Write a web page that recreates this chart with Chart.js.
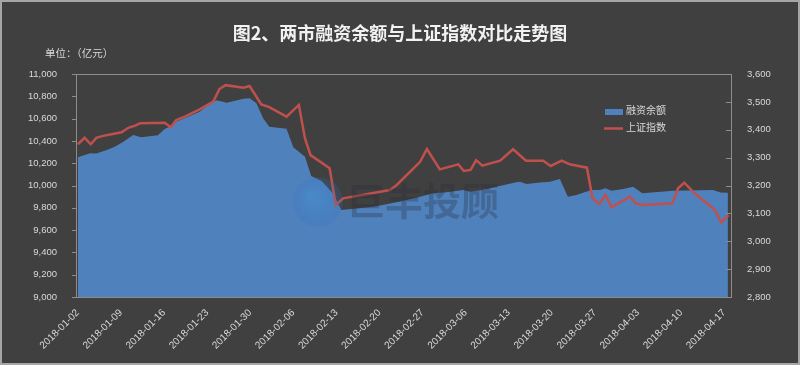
<!DOCTYPE html>
<html lang="zh-CN">
<head>
    <meta charset="UTF-8">
    <title>两市融资余额与上证指数对比走势图</title>
    <script src="https://cdn.jsdelivr.net/npm/chart.js"></script>
    <style>
        body {
            margin: 0;
            background-color: #404040;
        }
        canvas {
            display: block;
        }
    </style>
</head>
<body>
<canvas id="marginChart" width="800" height="365"></canvas>

<script>
    // 横轴刻度（每周一个）
    var xLabels = ['2018-01-02', '2018-01-09', '2018-01-16', '2018-01-23', '2018-01-30', '2018-02-06',
        '2018-02-13', '2018-02-20', '2018-02-27', '2018-03-06', '2018-03-13', '2018-03-20',
        '2018-03-27', '2018-04-03', '2018-04-10', '2018-04-17'];

    // 融资余额（亿元），位置为自 2018-01-02 起的天数
    var balanceDays = [0, 2, 3, 4.7, 6, 7.4, 9, 10.3, 13, 14.1, 14.9, 16, 19.8, 21.4, 22.5, 24.2, 26.9, 27.9,
        29, 30.1, 31.1, 33.9, 35, 36.9, 37.9, 39.6, 41.4, 42.8, 48, 51.8, 55, 57.7, 59.9, 62.6, 63.7, 65.8,
        68, 71, 71.8, 72.9, 75.1, 76.7, 78.3, 79.6, 81, 83.4, 84.8, 85.7, 86.7, 88.6, 90.2, 91.7, 96.7,
        103.2, 104.4, 105.6];
    var balanceValues = [10253, 10289, 10286, 10318, 10348, 10393, 10453, 10432, 10450, 10507, 10527, 10572,
        10662, 10728, 10764, 10743, 10779, 10782, 10737, 10603, 10527, 10510, 10343, 10258, 10085, 10040,
        9930, 9780, 9810, 9849, 9891, 9930, 9939, 9960, 9945, 9960, 9989, 10028, 10034, 10013, 10028, 10034,
        10058, 9900, 9915, 9960, 9960, 9975, 9953, 9969, 9989, 9930, 9953, 9960, 9937, 9935];

    // 上证指数
    var indexDays = [0, 1.1, 2.1, 3, 4.1, 5.7, 7.1, 8.2, 9.3, 10.1, 14.1, 15.1, 16, 17.4, 19.8, 22, 23, 24,
        26.9, 27.9, 29.8, 31.1, 33.9, 35.9, 36.9, 37.8, 40.9, 41.9, 43.1, 50.7, 51.8, 55.6, 56.7, 58.8,
        61.8, 62.7, 63.8, 64.7, 65.7, 68.6, 70.7, 72.8, 75.6, 76.8, 78.6, 79.9, 82.7, 83.6, 84.7, 85.7,
        86.7, 89.7, 90.6, 91.8, 96.6, 97.5, 98.5, 100, 101, 103.5, 104.5, 105.7];
    var indexValues = [3348, 3371, 3348, 3371, 3378, 3385, 3391, 3407, 3415, 3423, 3425, 3409, 3435, 3447,
        3473, 3501, 3546, 3560, 3551, 3557, 3491, 3481, 3447, 3489, 3369, 3309, 3262, 3130, 3154, 3184,
        3202, 3285, 3331, 3258, 3276, 3252, 3256, 3291, 3271, 3289, 3330, 3289, 3289, 3270, 3289, 3276,
        3264, 3154, 3134, 3166, 3122, 3160, 3136, 3130, 3136, 3190, 3210, 3176, 3157, 3112, 3068, 3094];

    function toPoints(days, values) {
        return days.map(function (d, i) {
            return { x: d, y: values[i] };
        });
    }

    var axisColor = '#8c8c8c';
    var textColor = '#d9d9d9';
    var cjkFont = '"Noto Sans CJK SC", sans-serif';
    var numFont = '"Liberation Sans", Arial, sans-serif';

    // 边框、刻度线、单位、图例、水印
    var decorPlugin = {
        id: 'decor',
        afterDatasetsDraw: function (chart) {
            var ctx = chart.ctx;
            ctx.save();
            var g = ctx.createRadialGradient(312, 196, 4, 318, 202, 25);
            g.addColorStop(0, 'rgba(60,150,220,0.35)');
            g.addColorStop(1, 'rgba(50,110,190,0.18)');
            ctx.fillStyle = g;
            ctx.beginPath();
            ctx.arc(318, 202, 25, 0, Math.PI * 2);
            ctx.fill();
            ctx.font = 'bold 38px ' + cjkFont;
            ctx.fillStyle = 'rgba(40,45,60,0.3)';
            ctx.textAlign = 'center';
            ctx.textBaseline = 'middle';
            ctx.fillText('巨丰投顾', 423, 201);
            ctx.restore();
        },
        afterDraw: function (chart) {
            var ctx = chart.ctx;
            var a = chart.chartArea;
            ctx.save();

            // 绘图区边框
            ctx.strokeStyle = axisColor;
            ctx.lineWidth = 1;
            ctx.strokeRect(Math.round(a.left) + 0.5, Math.round(a.top) + 0.5,
                Math.round(a.right - a.left), Math.round(a.bottom - a.top));

            // 左轴刻度线（外侧），右轴刻度线（内侧）
            ctx.beginPath();
            chart.scales.y.ticks.forEach(function (t) {
                var py = Math.round(chart.scales.y.getPixelForValue(t.value)) + 0.5;
                ctx.moveTo(a.left - 4, py);
                ctx.lineTo(a.left, py);
            });
            chart.scales.y1.ticks.forEach(function (t) {
                var py = Math.round(chart.scales.y1.getPixelForValue(t.value)) + 0.5;
                ctx.moveTo(a.right - 5, py);
                ctx.lineTo(a.right, py);
            });
            ctx.stroke();

            // 单位
            ctx.fillStyle = textColor;
            ctx.font = '10.5px ' + cjkFont;
            ctx.textBaseline = 'middle';
            ctx.textAlign = 'left';
            ctx.fillText('单位：（亿元）', 45, 53);

            // 图例
            ctx.font = '10px ' + cjkFont;
            ctx.fillStyle = '#4f81bd';
            ctx.fillRect(605, 109, 18, 6);
            ctx.fillStyle = textColor;
            ctx.fillText('融资余额', 626, 110);
            ctx.strokeStyle = '#c0504d';
            ctx.lineWidth = 2.5;
            ctx.beginPath();
            ctx.moveTo(604, 128.5);
            ctx.lineTo(623, 128.5);
            ctx.stroke();
            ctx.fillText('上证指数', 626, 127.5);

            // 外框
            ctx.strokeStyle = '#a6a6a6';
            ctx.lineWidth = 2;
            ctx.strokeRect(1, 1, chart.width - 2, chart.height - 2);
            ctx.restore();
        }
    };

    var ctx = document.getElementById('marginChart').getContext('2d');
    var marginChart = new Chart(ctx, {
        type: 'line',
        data: {
            datasets: [{
                label: '上证指数',
                data: toPoints(indexDays, indexValues),
                yAxisID: 'y1',
                borderColor: '#c0504d',
                borderWidth: 2.5,
                pointRadius: 0,
                fill: false,
                tension: 0,
                order: 1
            }, {
                label: '融资余额',
                data: toPoints(balanceDays, balanceValues),
                yAxisID: 'y',
                backgroundColor: '#4f81bd',
                borderWidth: 0,
                pointRadius: 0,
                fill: 'start',
                tension: 0,
                order: 2
            }]
        },
        options: {
            responsive: false,
            animation: false,
            layout: { padding: 0 },
            plugins: {
                legend: { display: false },
                tooltip: { enabled: false },
                title: {
                    display: true,
                    text: '图2、两市融资余额与上证指数对比走势图',
                    color: '#f2f2f2',
                    font: { family: cjkFont, size: 18, weight: 'bold' },
                    padding: { top: 22, bottom: 30.4 }
                }
            },
            scales: {
                x: {
                    type: 'linear',
                    min: -0.3,
                    max: 106.1,
                    grid: { display: false },
                    border: { display: false },
                    afterBuildTicks: function (scale) {
                        scale.ticks = xLabels.map(function (l, i) {
                            return { value: i * 7 };
                        });
                    },
                    afterFit: function (scale) {
                        scale.height = 68;
                    },
                    ticks: {
                        autoSkip: false,
                        maxRotation: 45,
                        minRotation: 45,
                        padding: 2,
                        color: textColor,
                        font: { family: numFont, size: 10 },
                        callback: function (value) {
                            return xLabels[Math.round(value / 7)];
                        }
                    }
                },
                y: {
                    position: 'left',
                    min: 9000,
                    max: 11000,
                    grid: { display: false },
                    border: { display: false },
                    afterFit: function (scale) {
                        scale.width = 76;
                    },
                    ticks: {
                        stepSize: 200,
                        padding: 11,
                        color: textColor,
                        font: { family: numFont, size: 9.5 }
                    }
                },
                y1: {
                    position: 'right',
                    min: 2800,
                    max: 3600,
                    grid: { display: false },
                    border: { display: false },
                    afterFit: function (scale) {
                        scale.width = 69;
                    },
                    ticks: {
                        stepSize: 100,
                        padding: 8,
                        color: textColor,
                        font: { family: numFont, size: 9.5 }
                    }
                }
            }
        },
        plugins: [decorPlugin]
    });
</script>
</body>
</html>
